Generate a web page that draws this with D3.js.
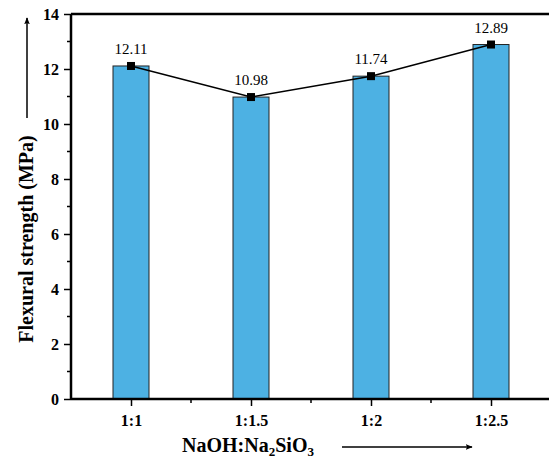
<!DOCTYPE html>
<html>
<head>
<meta charset="utf-8">
<script src="https://cdn.jsdelivr.net/npm/d3@7"></script>
<style>
  body { margin: 0; background: #fff; }
  svg text { font-family: "Liberation Serif", "Times New Roman", serif; }
</style>
</head>
<body>
<div id="chart"></div>
<script>
// data
const ratios = ["1:1", "1:1.5", "1:2", "1:2.5"];
const strength = [12.11, 10.98, 11.74, 12.89];
const yTicks = [0, 2, 4, 6, 8, 10, 12, 14];

const W = 549, H = 460;
const margin = { top: 14, left: 71, bottom: 61 };
const plotW = 480, plotH = H - margin.top - margin.bottom;
const serif = "Liberation Serif, Times New Roman, serif";

const svg = d3.select("#chart")
  .append("svg")
  .attr("width", W)
  .attr("height", H);

const g = svg.append("g")
  .attr("transform", `translate(${margin.left},${margin.top})`);

// scales
const x = d3.scaleLinear().domain([0.5, 4.5]).range([0, plotW]);
const y = d3.scaleLinear().domain([0, 14]).range([plotH, 0]);
const barW = 36;

// bars
g.selectAll("rect.bar")
  .data(strength)
  .enter()
  .append("rect")
  .attr("class", "bar")
  .attr("x", (d, i) => x(i + 1) - barW / 2)
  .attr("y", d => y(d))
  .attr("width", barW)
  .attr("height", d => plotH - y(d))
  .attr("fill", "#4db1e3")
  .attr("stroke", "#222")
  .attr("stroke-width", 1);

// line + markers
const line = d3.line()
  .x((d, i) => x(i + 1))
  .y(d => y(d));

g.append("path")
  .datum(strength)
  .attr("d", line)
  .attr("fill", "none")
  .attr("stroke", "#000")
  .attr("stroke-width", 1.5);

g.selectAll("rect.mark")
  .data(strength)
  .enter()
  .append("rect")
  .attr("class", "mark")
  .attr("x", (d, i) => x(i + 1) - 4)
  .attr("y", d => y(d) - 4)
  .attr("width", 8)
  .attr("height", 8)
  .attr("fill", "#000");

// value labels
g.selectAll("text.val")
  .data(strength)
  .enter()
  .append("text")
  .attr("class", "val")
  .attr("x", (d, i) => x(i + 1))
  .attr("y", d => y(d) - 12)
  .attr("text-anchor", "middle")
  .style("font-size", "15px")
  .text(d => d.toFixed(2));

// y axis
const yAxis = g.append("g")
  .call(d3.axisLeft(y).tickValues(yTicks).tickSize(7).tickPadding(5).tickFormat(d3.format("d")));
yAxis.selectAll("text")
  .style("font-size", "16px")
  .style("font-weight", "bold")
  .style("font-family", serif)
  .attr("fill", "#000");

// y minor ticks
g.selectAll("line.yminor")
  .data(d3.range(1, 14, 2))
  .enter()
  .append("line")
  .attr("x1", -4).attr("x2", 0)
  .attr("y1", d => y(d)).attr("y2", d => y(d))
  .attr("stroke", "#000").attr("stroke-width", 1.5);

// x axis
const xAxis = g.append("g")
  .attr("transform", `translate(0,${plotH})`)
  .call(d3.axisBottom(x).tickValues([1, 2, 3, 4]).tickSize(7).tickPadding(9)
    .tickFormat(d => ratios[d - 1]));
xAxis.selectAll("text")
  .style("font-size", "16px")
  .style("font-weight", "bold")
  .style("font-family", serif)
  .attr("fill", "#000");

g.selectAll("line.xminor")
  .data([1.5, 2.5, 3.5])
  .enter()
  .append("line")
  .attr("x1", d => x(d)).attr("x2", d => x(d))
  .attr("y1", plotH).attr("y2", plotH + 4)
  .attr("stroke", "#000").attr("stroke-width", 1.5);

[yAxis, xAxis].forEach(a => {
  a.select(".domain").attr("stroke-width", 2.5).attr("d",
    a === yAxis ? `M0,${plotH}V0` : `M0,0H${plotW}`);
  a.selectAll(".tick line").attr("stroke-width", 1.5);
});

// top frame
g.append("line")
  .attr("x1", 0).attr("x2", plotW)
  .attr("y1", 0).attr("y2", 0)
  .attr("stroke", "#000").attr("stroke-width", 2.5);

// arrow marker
svg.append("defs").append("marker")
  .attr("id", "arr")
  .attr("viewBox", "0 0 10 10")
  .attr("refX", 9).attr("refY", 5)
  .attr("markerWidth", 7).attr("markerHeight", 7)
  .attr("markerUnits", "userSpaceOnUse")
  .attr("orient", "auto")
  .append("path")
  .attr("d", "M0,1L10,5L0,9L2,5Z")
  .attr("fill", "#000");

// y title
svg.append("text")
  .attr("transform", "translate(33,239) rotate(-90)")
  .attr("text-anchor", "middle")
  .style("font-size", "20px")
  .style("font-weight", "bold")
  .text("Flexural strength (MPa)");

svg.append("line")
  .attr("x1", 27).attr("x2", 27)
  .attr("y1", 118).attr("y2", 18)
  .attr("stroke", "#000").attr("stroke-width", 1.5)
  .attr("marker-end", "url(#arr)");

// x title
const xt = svg.append("text")
  .attr("x", 248).attr("y", 452)
  .attr("text-anchor", "middle")
  .style("font-size", "20px")
  .style("font-weight", "bold");
xt.append("tspan").text("NaOH:Na");
xt.append("tspan").attr("dy", 4).style("font-size", "13px").text("2");
xt.append("tspan").attr("dy", -4).text("SiO");
xt.append("tspan").attr("dy", 4).style("font-size", "13px").text("3");

svg.append("line")
  .attr("x1", 342).attr("x2", 472)
  .attr("y1", 447).attr("y2", 447)
  .attr("stroke", "#000").attr("stroke-width", 1.5)
  .attr("marker-end", "url(#arr)");
</script>
</body>
</html>
